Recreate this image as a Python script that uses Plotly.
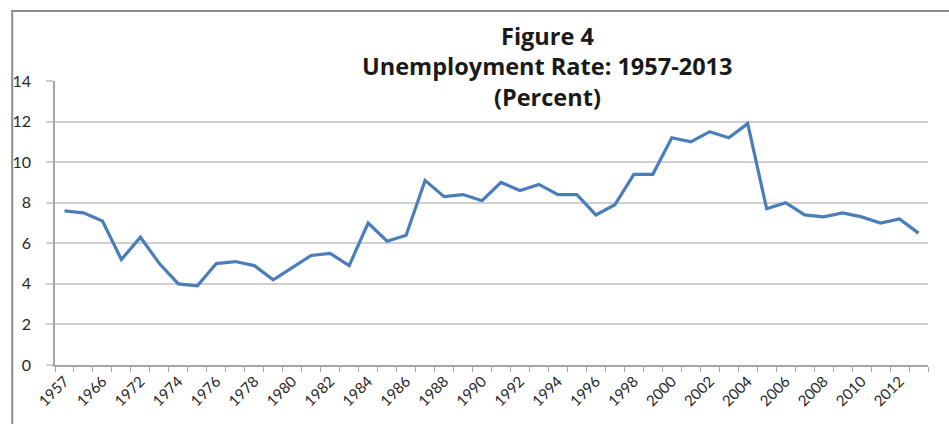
import plotly.graph_objects as go

# Year categories along the x axis (labels shown on every other one)
years = ["1957", "1960", "1966", "1970"] + [str(y) for y in range(1972, 2014)]

# Unemployment rate, percent
rate = [
    7.6, 7.5, 7.1, 5.2, 6.3, 5.0, 4.0, 3.9, 5.0, 5.1,
    4.9, 4.2, 4.8, 5.4, 5.5, 4.9, 7.0, 6.1, 6.4, 9.1,
    8.3, 8.4, 8.1, 9.0, 8.6, 8.9, 8.4, 8.4, 7.4, 7.9,
    9.4, 9.4, 11.2, 11.0, 11.5, 11.2, 11.9, 7.7, 8.0, 7.4,
    7.3, 7.5, 7.3, 7.0, 7.2, 6.5,
]

y_ticks = [0, 2, 4, 6, 8, 10, 12, 14]

title_lines = ["Figure 4", "Unemployment Rate: 1957-2013", "(Percent)"]

# category slots: one per year
pos = list(range(len(years)))
label_pos = pos[::2]
label_text = years[::2]

fig = go.Figure()
fig.add_trace(go.Scatter(
    x=pos, y=rate, mode="lines",
    line=dict(color="#4A7EBB", width=3.2),
    hoverinfo="skip",
))

grid = "#cfcfcf"
axis_col = "#a6a6a6"

fig.update_layout(
    width=949, height=424,
    margin=dict(l=51, r=21, t=81, b=59),
    paper_bgcolor="white", plot_bgcolor="white",
    showlegend=False,
    font=dict(family="Lato, 'Open Sans', sans-serif", color="#262626"),
    xaxis=dict(
        range=[-0.5, len(years) - 0.5],
        tickmode="array", tickvals=label_pos, ticktext=label_text,
        tickangle=-45, ticks="", showgrid=False,
        showline=True, linecolor=axis_col, linewidth=1.5,
        tickfont=dict(size=15, color="#262626"),
        minor=dict(tick0=-0.5, dtick=1, ticks="outside", ticklen=5,
                   tickcolor=axis_col, tickwidth=1.2, showgrid=False),
        zeroline=False,
    ),
    yaxis=dict(
        range=[0, 14], tickmode="array", tickvals=y_ticks,
        showgrid=True, gridcolor=grid, gridwidth=1.6,
        ticks="outside", ticklen=7, tickcolor=grid, tickwidth=1.6,
        showline=True, linecolor=axis_col, linewidth=1.5,
        tickfont=dict(size=16, color="#262626"),
        ticklabelstandoff=12,
        zeroline=False,
    ),
)

# three-line heading, centred over the plot
title_y = [1.158, 1.053, 0.944]
for txt, ty in zip(title_lines, title_y):
    fig.add_annotation(
        text=f"<b>{txt}</b>", xref="paper", yref="paper",
        x=(546 - 51) / 877, y=ty, xanchor="center", yanchor="middle",
        showarrow=False,
        font=dict(size=23.5, color="#1a1a1a", family="'Open Sans', sans-serif"),
    )

# outer chart frame (extends past the right and bottom edges)
fig.add_shape(
    type="rect", xref="paper", yref="paper",
    x0=(8 - 51) / 877, x1=1.2, y0=-0.4, y1=1 + (81 - 11) / 284,
    line=dict(color="#8c8c8c", width=2), fillcolor="rgba(0,0,0,0)",
    layer="below",
)

fig.write_html("out.html")
